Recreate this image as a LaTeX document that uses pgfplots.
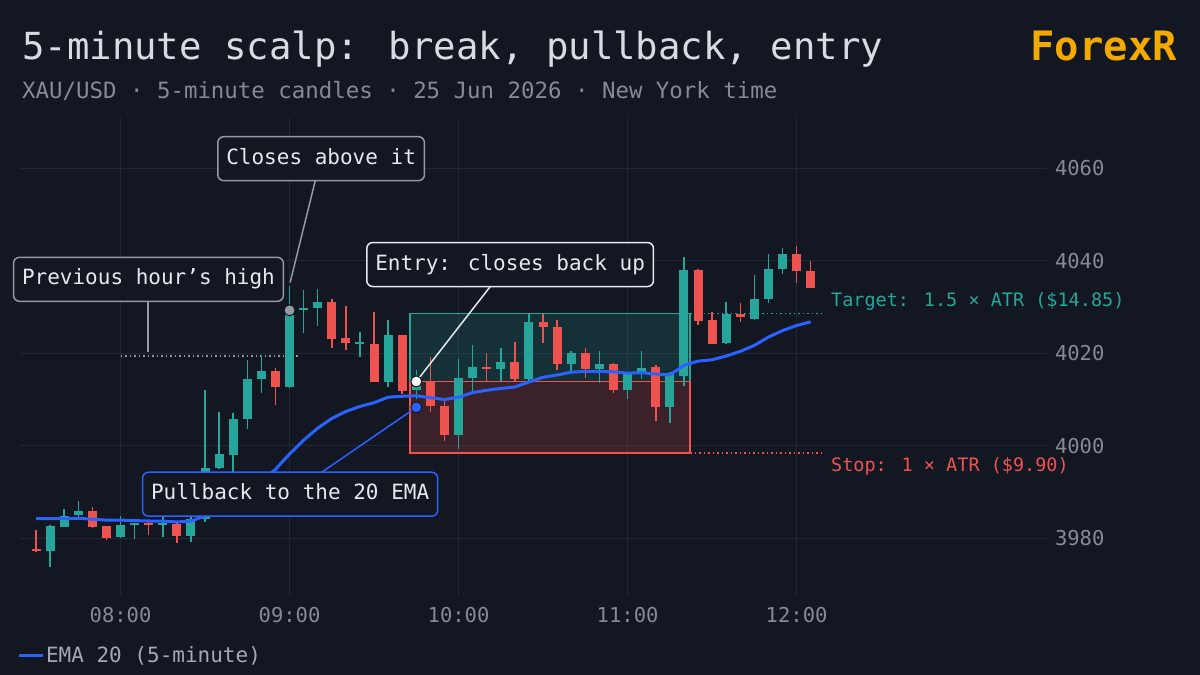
\documentclass[border=0pt]{standalone}
\usepackage{pgfplots}
\pgfplotsset{compat=1.18}
\usepackage{pgfplotstable}
\usepackage{fontspec}
\setmainfont{DejaVu Sans Mono}
\definecolor{bg}{RGB}{19,23,34}
\definecolor{gridc}{RGB}{34,39,52}
\definecolor{up}{RGB}{38,166,154}
\definecolor{down}{RGB}{239,83,80}
\definecolor{ema}{RGB}{41,98,255}
\definecolor{titlec}{RGB}{216,219,226}
\definecolor{subc}{RGB}{134,138,148}
\definecolor{tickc}{RGB}{134,138,148}
\definecolor{legc}{RGB}{165,168,176}
\definecolor{gold}{RGB}{242,169,0}
\definecolor{annbord}{RGB}{150,153,160}
\definecolor{anntext}{RGB}{230,232,238}
\definecolor{dotgray}{RGB}{150,153,160}
\newcommand\fs[1]{\fontsize{#1}{#1}\selectfont}

% 5-minute candles, t = minutes after 07:00
\pgfplotstableread{
t o h l c
35 3977.2 3982.8 3973.8 3982.6
40 3982.5 3986.3 3982.4 3984.8
45 3985.0 3988.1 3984.5 3985.9
60 3980.2 3984.8 3980.0 3982.9
65 3982.9 3983.3 3979.9 3983.3
75 3982.9 3984.8 3980.2 3983.3
85 3980.4 3984.5 3979.2 3984.2
90 3984.2 4012.0 3983.5 3995.1
95 3995.1 4007.4 3995.0 3998.1
100 3998.0 4007.0 3994.4 4005.8
105 4005.8 4018.5 4003.7 4014.5
110 4014.4 4019.6 4011.4 4016.1
120 4012.6 4034.5 4012.5 4028.7
125 4029.3 4033.8 4024.3 4029.8
130 4029.8 4033.8 4025.9 4031.0
145 4022.1 4024.6 4019.1 4022.4
155 4013.9 4027.1 4012.8 4023.9
165 4012.1 4016.4 4010.1 4013.8
180 4002.4 4018.8 3999.3 4014.7
185 4014.7 4021.7 4011.4 4017.0
195 4016.5 4021.2 4014.0 4018.1
205 4014.5 4028.4 4014.0 4026.7
220 4017.6 4020.6 4016.2 4020.1
230 4016.5 4020.5 4013.5 4017.6
240 4012.0 4015.5 4010.1 4015.5
245 4015.8 4020.6 4014.4 4016.9
255 4008.3 4016.0 4005.0 4015.7
260 4015.2 4040.8 4012.9 4038.1
275 4022.3 4031.0 4022.1 4028.6
285 4027.5 4037.0 4027.1 4031.8
290 4031.8 4041.5 4030.9 4038.2
295 4038.2 4042.8 4037.2 4041.5
}\uptable

\pgfplotstableread{
t o h l c
30 3977.7 3981.7 3977.1 3977.3
50 3985.9 3986.7 3982.2 3982.5
55 3982.6 3982.6 3979.7 3980.1
70 3983.3 3984.2 3980.6 3982.9
80 3983.0 3983.7 3979.0 3980.4
115 4016.1 4016.9 4008.8 4012.7
135 4031.2 4031.8 4021.2 4023.2
140 4023.4 4030.3 4020.8 4022.3
150 4022.1 4028.9 4013.9 4013.9
160 4023.9 4023.9 4011.1 4011.9
170 4013.7 4019.3 4007.4 4008.5
175 4008.5 4009.7 4001.1 4002.4
190 4017.0 4020.1 4014.0 4016.5
200 4018.1 4022.4 4014.0 4014.5
210 4026.7 4028.6 4022.3 4025.7
215 4025.7 4027.2 4016.4 4017.6
225 4020.1 4021.2 4014.7 4016.5
235 4017.6 4017.8 4011.5 4012.0
250 4017.0 4017.5 4005.3 4008.3
265 4038.1 4038.3 4026.2 4026.9
270 4027.1 4028.9 4022.1 4022.1
280 4028.6 4030.8 4026.7 4027.9
300 4041.5 4043.1 4035.1 4037.7
305 4037.9 4039.9 4034.2 4034.2
}\downtable

\pgfplotstableread{
t e
30 3984.2
35 3984.2
40 3984.2
45 3984.3
50 3984.1
55 3983.9
60 3983.9
65 3983.8
70 3983.7
75 3983.7
80 3983.5
85 3983.7
90 3984.8
95 3986.2
100 3988.0
105 3990.0
110 3992.3
115 3994.9
120 3998.2
125 4001.2
130 4003.8
135 4005.9
140 4007.4
145 4008.5
150 4009.3
155 4010.5
160 4010.7
165 4010.8
170 4010.4
175 4010.0
180 4010.5
185 4011.5
190 4012.0
195 4012.4
200 4012.7
205 4013.8
210 4014.8
215 4015.3
220 4015.9
225 4016.1
230 4016.1
235 4016.0
240 4015.7
245 4015.8
250 4015.5
255 4015.3
260 4017.4
265 4018.3
270 4018.6
275 4019.4
280 4020.4
285 4021.7
290 4023.5
295 4024.9
300 4026.0
305 4026.8
}\ematable

\begin{document}
\begin{tikzpicture}[
  ann/.style={draw=annbord, line width=1.5pt, rounded corners=6pt, fill=bg,
    text=anntext, font=\fs{21}, inner xsep=8.5pt, inner ysep=0pt,
    minimum height=44pt, text height=15pt, text depth=4pt}]
\fill[bg] (0pt,0pt) rectangle (1200pt,-675pt);

\node[anchor=base west, inner sep=0pt, text=titlec, font=\fs{37.3}] at (22pt,-59pt) {5-minute scalp: break, pullback, entry};
\node[anchor=base west, inner sep=0pt, text=subc, font=\fs{22.4}] at (22pt,-98pt) {XAU/USD · 5-minute candles · 25 Jun 2026 · New York time};
\node[anchor=base east, inner sep=0pt, text=gold, font=\fs{40.5}\bfseries] at (1177pt,-60pt) {ForexR};

\begin{axis}[
  at={(20pt,-118pt)}, anchor=north west,
  scale only axis, width=1027pt, height=477pt,
  xmin=24.3, xmax=388.9, ymin=3967.7, ymax=4070.9,
  axis line style={draw=none},
  major tick length=0pt,
  xtick={60,120,180,240,300},
  xticklabels={08:00,09:00,10:00,11:00,12:00},
  ytick={3980,4000,4020,4040,4060},
  yticklabels={3980,4000,4020,4040,4060},
  yticklabel pos=right,
  grid=major, major grid style={draw=gridc, line width=1pt},
  tick label style={font=\fs{20.5}, text=tickc},
  xticklabel style={yshift=-8.5pt},
  yticklabel style={xshift=4.5pt},
  clip=false,
  legend style={at={(0,-0.1258)}, anchor=west, draw=none, fill=none,
    inner sep=0pt, outer sep=0pt, font=\fs{21}, text=legc,
    nodes={inner sep=2pt}, xshift=-2pt},
  legend cell align=left,
  legend image code/.code={\draw[#1, line width=3pt] (0pt,0pt) -- (23pt,0pt);},
  candle/.style={forget plot, only marks, mark=*, mark size=0pt,
    mark options={draw=none, fill=none}},
]
% target and stop zones
\addplot[forget plot, fill=up, fill opacity=0.18, draw=up, line width=1.5pt]
  coordinates {(162.8,4013.9) (262.2,4013.9) (262.2,4028.6) (162.8,4028.6)} -- cycle;
\addplot[forget plot, fill=down, fill opacity=0.18, draw=down, line width=1.5pt]
  coordinates {(162.8,3998.4) (262.2,3998.4) (262.2,4013.9) (162.8,4013.9)} -- cycle;
% dotted levels
\addplot[forget plot, dotgray, line width=1.5pt, dash pattern=on 1.5pt off 3pt]
  coordinates {(60,4019.4) (123.7,4019.4)};
\addplot[forget plot, up, line width=1.5pt, dash pattern=on 1.5pt off 3pt]
  coordinates {(262.2,4028.6) (310.1,4028.6)};
\addplot[forget plot, down, line width=1.5pt, dash pattern=on 1.5pt off 3pt]
  coordinates {(262.2,3998.4) (310.1,3998.4)};

% candles: wicks
\addplot[candle,
  error bars/.cd, y dir=both, y explicit, error mark=none,
  error bar style={draw=up, line width=1.5pt}]
  table[x=t, y expr={(\thisrow{h}+\thisrow{l})/2},
        y error expr={(\thisrow{h}-\thisrow{l})/2}] {\uptable};
\addplot[candle,
  error bars/.cd, y dir=both, y explicit, error mark=none,
  error bar style={draw=down, line width=1.5pt}]
  table[x=t, y expr={(\thisrow{h}+\thisrow{l})/2},
        y error expr={(\thisrow{h}-\thisrow{l})/2}] {\downtable};
% candles: bodies
\addplot[candle,
  error bars/.cd, y dir=both, y explicit, error mark=none,
  error bar style={draw=up, line width=9pt}]
  table[x=t, y expr={(\thisrow{o}+\thisrow{c})/2},
        y error expr={max(abs(\thisrow{c}-\thisrow{o})/2,0.25)}] {\uptable};
\addplot[candle,
  error bars/.cd, y dir=both, y explicit, error mark=none,
  error bar style={draw=down, line width=9pt}]
  table[x=t, y expr={(\thisrow{o}+\thisrow{c})/2},
        y error expr={max(abs(\thisrow{c}-\thisrow{o})/2,0.25)}] {\downtable};

% EMA
\addplot[ema, line width=3pt, line join=round] table[x=t, y=e] {\ematable};
\addlegendentry{EMA 20 (5-minute)}

% leader lines
\draw[annbord, line width=1.5pt] (axis cs:129.1,4057.3) -- (axis cs:120.2,4035.3);
\draw[annbord, line width=1.5pt] (axis cs:69.8,4031.2) -- (axis cs:69.8,4020.2);
\draw[anntext, line width=1.5pt] (axis cs:191.2,4034.4) -- (axis cs:165,4013.9);
\draw[ema, line width=1.5pt] (axis cs:131.5,3994.3) -- (axis cs:165,4008.3);

% markers
\addplot[forget plot, only marks, mark=*, mark size=5.5pt,
  mark options={fill=dotgray, draw=bg, line width=1pt}] coordinates {(120,4029.3)};
\addplot[forget plot, only marks, mark=*, mark size=5.5pt,
  mark options={fill=white, draw=bg, line width=1pt}] coordinates {(165,4013.9)};
\addplot[forget plot, only marks, mark=*, mark size=5.5pt,
  mark options={fill=ema, draw=bg, line width=1pt}] coordinates {(165,4008.3)};

% annotation boxes
\node[ann] at (axis cs:131.2,4062.1) {Closes above it};
\node[ann] at (axis cs:69.9,4036.0) {Previous hour’s high};
\node[ann, draw=anntext] at (axis cs:198.3,4039.2) {Entry: closes back up};
\node[ann, draw=ema] at (axis cs:120.2,3989.5) {Pullback to the 20 EMA};

% level labels
\node[anchor=west, inner sep=0pt, text=up, font=\fs{18.5}] at (axis cs:312.2,4031.2) {Target: 1.5 × ATR (\$14.85)};
\node[anchor=west, inner sep=0pt, text=down, font=\fs{18.5}] at (axis cs:312.2,3995.6) {Stop: 1 × ATR (\$9.90)};
\end{axis}
\pgfresetboundingbox
\path[use as bounding box] (0pt,0pt) rectangle (1200pt,-675pt);
\end{tikzpicture}
\end{document}
